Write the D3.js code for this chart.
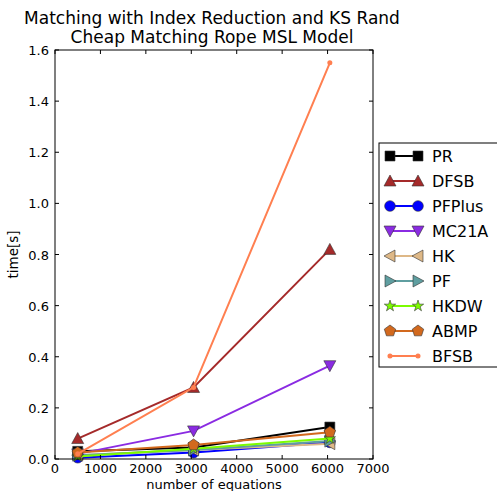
<!DOCTYPE html>
<html><head><meta charset="utf-8">
<script src="https://cdn.jsdelivr.net/npm/d3@7"></script>
<style>body{margin:0;background:#fff}text{font-family:"DejaVu Sans",sans-serif}</style>
</head><body><svg width="497" height="491"></svg>
<script>
var sizes = [500, 3050, 6050]
var names = ['PR', 'DFSB', 'PFPlus', 'MC21A', 'HK', 'PF', 'HKDW', 'ABMP', 'BFSB']
var colors = ['#000000', '#a52a2a', '#0000ff', '#8a2be2', '#deb887', '#5f9ea0', '#7cfc00', '#d2691e', '#ff7f50']
var markers = ['square', 'triUp', 'circle', 'triDown', 'triLeft', 'triRight', 'star', 'pentagon', 'dot']
var times = [
    [0.03, 0.045, 0.125],
    [0.08, 0.28, 0.82],
    [0.005, 0.025, 0.065],
    [0.02, 0.11, 0.365],
    [0.015, 0.035, 0.06],
    [0.015, 0.035, 0.07],
    [0.01, 0.04, 0.08],
    [0.025, 0.055, 0.105],
    [0.02, 0.28, 1.55]
]
var xTicks = [0, 1000, 2000, 3000, 4000, 5000, 6000, 7000]
var yTicks = [0, 0.2, 0.4, 0.6, 0.8, 1.0, 1.2, 1.4, 1.6]

var svg = d3.select('svg')
var L = 55, R = 373, T = 50, B = 459
var x = d3.scaleLinear().domain([0, 7000]).range([L, R])
var y = d3.scaleLinear().domain([0, 1.6]).range([B, T])

function markerPath(m) {
    if (m === 'square') return 'M-5,-5H5V5H-5Z'
    if (m === 'triUp') return 'M0,-6L6,5L-6,5Z'
    if (m === 'triDown') return 'M0,6L6,-5L-6,-5Z'
    if (m === 'triLeft') return 'M-6,0L5,-6L5,6Z'
    if (m === 'triRight') return 'M6,0L-5,-6L-5,6Z'
    if (m === 'circle') return d3.symbol(d3.symbolCircle, 90)()
    if (m === 'star') return d3.symbol(d3.symbolStar, 40)()
    if (m === 'pentagon') {
        var p = d3.range(5).map(i => { var a = -Math.PI / 2 + i * 2 * Math.PI / 5; return [6 * Math.cos(a), 6 * Math.sin(a)] })
        return 'M' + p.join('L') + 'Z'
    }
    return d3.symbol(d3.symbolCircle, 20)()
}

// series
names.forEach(function (n, k) {
    var pts = sizes.map((s, i) => [x(s), y(times[k][i])])
    svg.append('path').attr('d', d3.line()(pts)).attr('fill', 'none')
        .attr('stroke', colors[k]).attr('stroke-width', 2)
    pts.forEach(function (p) {
        svg.append('path').attr('d', markerPath(markers[k]))
            .attr('transform', 'translate(' + p + ')')
            .attr('fill', colors[k]).attr('stroke', markers[k] === 'dot' ? 'none' : '#333').attr('stroke-width', 0.6)
    })
})

svg.append('rect').attr('x', L).attr('y', T).attr('width', R - L).attr('height', B - T)
    .attr('fill', 'none').attr('stroke', '#000')

xTicks.forEach(function (t) {
    svg.append('line').attr('x1', x(t)).attr('x2', x(t)).attr('y1', B).attr('y2', B - 4).attr('stroke', '#000')
    svg.append('line').attr('x1', x(t)).attr('x2', x(t)).attr('y1', T).attr('y2', T + 4).attr('stroke', '#000')
    svg.append('text').text(t).attr('x', x(t)).attr('y', B + 14).attr('text-anchor', 'middle').style('font-size', '13px')
})
yTicks.forEach(function (t) {
    svg.append('line').attr('x1', L).attr('x2', L + 4).attr('y1', y(t)).attr('y2', y(t)).attr('stroke', '#000')
    svg.append('line').attr('x1', R).attr('x2', R - 4).attr('y1', y(t)).attr('y2', y(t)).attr('stroke', '#000')
    svg.append('text').text(t.toFixed(1)).attr('x', L - 6).attr('y', y(t) + 5).attr('text-anchor', 'end').style('font-size', '13px')
})

svg.append('text').text('number of equations').attr('x', (L + R) / 2).attr('y', 489)
    .attr('text-anchor', 'middle').style('font-size', '13px')
svg.append('text').text('time[s]').attr('transform', 'translate(18,' + (T + B) / 2 + ') rotate(-90)')
    .attr('text-anchor', 'middle').style('font-size', '13.5px')
svg.append('text').text('Matching with Index Reduction and KS Rand').attr('x', 212).attr('y', 24)
    .attr('text-anchor', 'middle').style('font-size', '17px')
svg.append('text').text('Cheap Matching Rope MSL Model').attr('x', 212).attr('y', 43)
    .attr('text-anchor', 'middle').style('font-size', '17px')

// legend
svg.append('rect').attr('x', 379).attr('y', 143).attr('width', 130).attr('height', 224)
    .attr('fill', '#fff').attr('stroke', '#000')
names.forEach(function (n, k) {
    var ly = 156 + k * 25
    svg.append('line').attr('x1', 390).attr('x2', 418).attr('y1', ly).attr('y2', ly)
        .attr('stroke', colors[k]).attr('stroke-width', 2)
    ;[390, 418].forEach(function (lx) {
        svg.append('path').attr('d', markerPath(markers[k])).attr('transform', 'translate(' + lx + ',' + ly + ')')
            .attr('fill', colors[k]).attr('stroke', markers[k] === 'dot' ? 'none' : '#333').attr('stroke-width', 0.6)
    })
    svg.append('text').text(n).attr('x', 432).attr('y', ly + 6).style('font-size', '16px')
})
</script></body></html>
